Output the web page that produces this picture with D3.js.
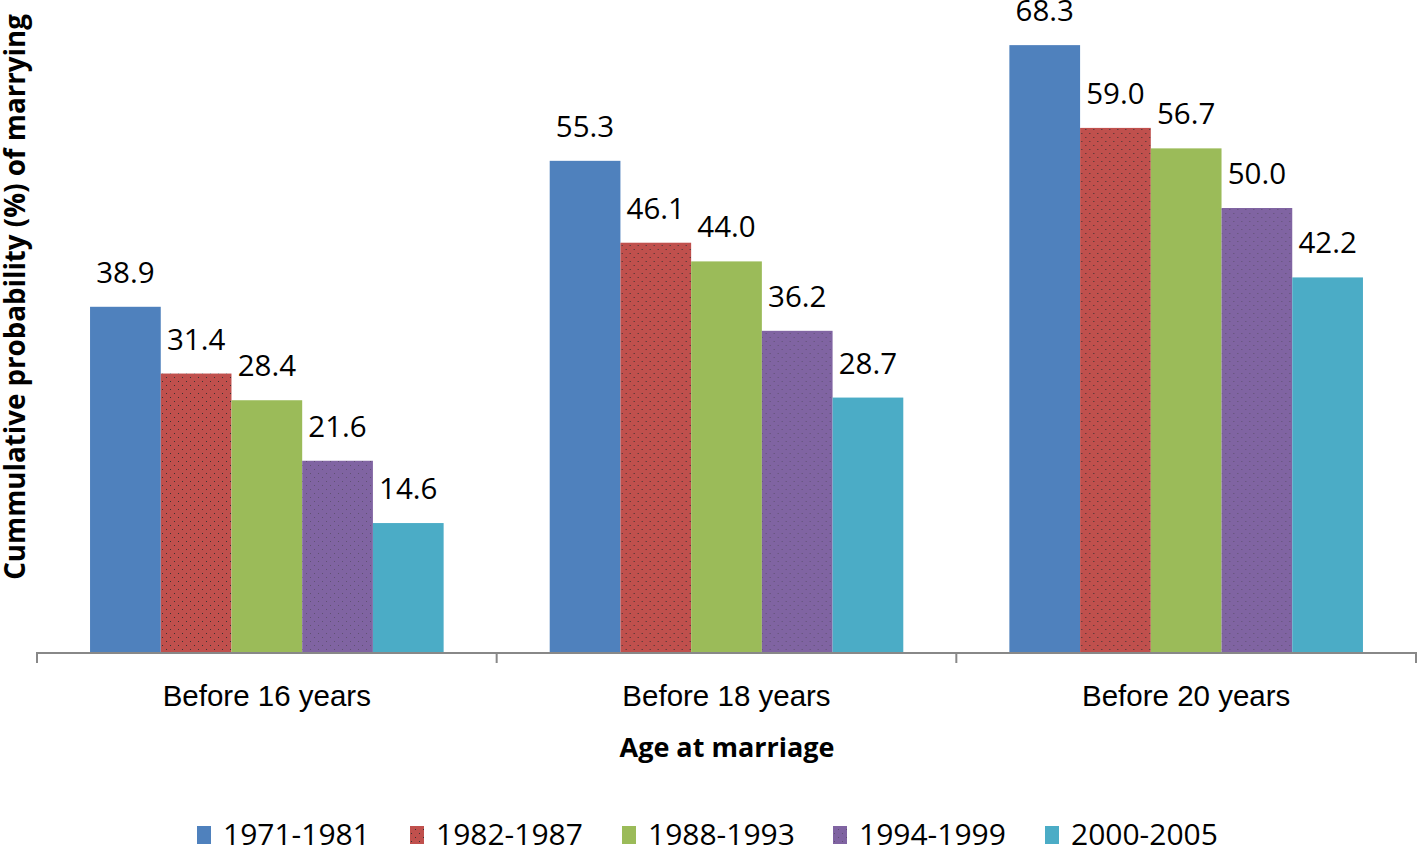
<!DOCTYPE html>
<html>
<head>
<meta charset="utf-8">
<script src="https://cdn.jsdelivr.net/npm/d3@7"></script>
<style>
  html, body { margin: 0; padding: 0; background: #fff; }
  svg { display: block; font-family: "Open Sans", sans-serif; }
</style>
</head>
<body>
<svg id="chart" width="1418" height="847"></svg>
<script>
const categories = ["Before 16 years", "Before 18 years", "Before 20 years"];
const seriesNames = ["1971-1981", "1982-1987", "1988-1993", "1994-1999", "2000-2005"];
const s1971 = [38.9, 55.3, 68.3];
const s1982 = [31.4, 46.1, 59.0];
const s1988 = [28.4, 44.0, 56.7];
const s1994 = [21.6, 36.2, 50.0];
const s2000 = [14.6, 28.7, 42.2];
const seriesValues = [s1971, s1982, s1988, s1994, s2000];
const colors = ["#4F81BD", "#C0504D", "#9BBB59", "#8064A2", "#4BACC6"];
const xTitle = "Age at marriage";
const yTitle = "Cummulative probability (%) of marrying";

const svg = d3.select("#chart");

// subtle textures
const defs = svg.append("defs");
function dotPattern(id, base, dot, op) {
  const p = defs.append("pattern").attr("id", id).attr("patternUnits", "userSpaceOnUse")
    .attr("width", 8).attr("height", 8);
  p.append("rect").attr("width", 8).attr("height", 8).attr("fill", base);
  p.append("rect").attr("x", 1).attr("y", 1).attr("width", 1).attr("height", 1).attr("fill", dot).attr("opacity", op);
  p.append("rect").attr("x", 5).attr("y", 5).attr("width", 1).attr("height", 1).attr("fill", dot).attr("opacity", op);
  return "url(#" + id + ")";
}
const fills = [
  colors[0],
  dotPattern("pRed", colors[1], "#1a2a2a", 0.8),
  colors[2],
  dotPattern("pPurple", colors[3], "#3a3a3a", 0.45),
  colors[4]
];

const baseY = 653;
const y = d3.scaleLinear().domain([0, 70]).range([baseY, 30]);
const x0 = d3.scaleBand().domain(categories).range([37, 1416]).paddingInner(0).paddingOuter(0);
const x1 = d3.scaleBand().domain(seriesNames).range([0, x0.bandwidth()]).paddingInner(0).paddingOuter(0.75);

const rows = categories.map((c, i) => ({
  cat: c,
  vals: seriesNames.map((s, j) => ({ s, j, v: seriesValues[j][i] }))
}));

const g = svg.selectAll("g.cat").data(rows).enter().append("g")
  .attr("class", "cat").attr("transform", d => `translate(${x0(d.cat)},0)`);

g.selectAll("rect").data(d => d.vals).enter().append("rect")
  .attr("x", d => x1(d.s))
  .attr("y", d => y(d.v))
  .attr("width", x1.bandwidth())
  .attr("height", d => y(0) - y(d.v))
  .attr("fill", d => fills[d.j]);

g.selectAll("text.lbl").data(d => d.vals).enter().append("text")
  .attr("class", "lbl")
  .attr("x", d => x1(d.s) + x1.bandwidth() / 2)
  .attr("y", d => y(d.v) - 24)
  .attr("text-anchor", "middle")
  .attr("font-size", 29.5)
  .attr("fill", "#000")
  .text(d => d.v.toFixed(1));

// x axis
const axis = d3.axisBottom(x0).tickSize(0).tickPadding(0);
const ax = svg.append("g").attr("transform", `translate(0,${baseY})`).call(axis);
ax.select(".domain").remove();
ax.selectAll("text").remove();
ax.append("line").attr("x1", 36).attr("x2", 1417).attr("y1", 0).attr("y2", 0)
  .attr("stroke", "#888").attr("stroke-width", 2);
const boundaries = [x0(categories[0])].concat(categories.map(c => x0(c) + x0.bandwidth()));
ax.selectAll("line.tk").data(boundaries).enter().append("line").attr("class", "tk")
  .attr("x1", d => d).attr("x2", d => d).attr("y1", 0).attr("y2", 10)
  .attr("stroke", "#888").attr("stroke-width", 2);
ax.selectAll("text.cl").data(categories).enter().append("text").attr("class", "cl")
  .attr("x", d => x0(d) + x0.bandwidth() / 2)
  .attr("y", 53)
  .attr("text-anchor", "middle")
  .attr("font-size", 29.5)
  .attr("fill", "#000")
  .text(d => d);

svg.append("text")
  .attr("x", 727).attr("y", 757)
  .attr("text-anchor", "middle")
  .attr("font-size", 27).attr("font-weight", "bold")
  .text(xTitle);

svg.append("text")
  .attr("transform", "translate(25,297) rotate(-90)")
  .attr("text-anchor", "middle")
  .attr("font-size", 27.7).attr("font-weight", "bold")
  .text(yTitle);

// legend
const legX = [197, 410, 622, 833, 1045];
const leg = svg.selectAll("g.leg").data(seriesNames).enter().append("g")
  .attr("class", "leg").attr("transform", (d, i) => `translate(${legX[i]},0)`);
leg.append("rect").attr("x", 0).attr("y", 826).attr("width", 14).attr("height", 18)
  .attr("fill", (d, i) => fills[i]);
leg.append("text").attr("x", 26).attr("y", 845).attr("font-size", 30).attr("fill", "#000").text(d => d);
</script>
</body>
</html>
